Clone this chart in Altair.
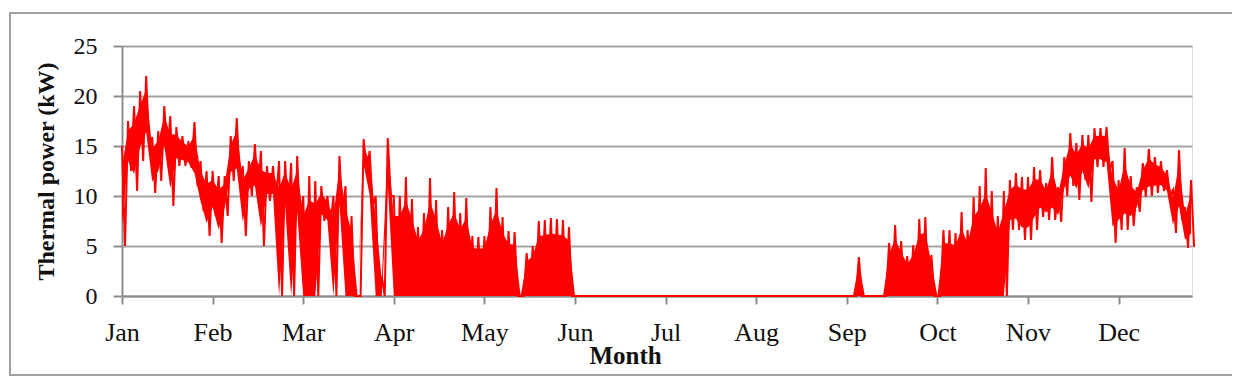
import altair as alt
import pandas as pd

# Month tick labels
months = ["Jan", "Feb", "Mar", "Apr", "May", "Jun", "Jul", "Aug", "Sep", "Oct", "Nov", "Dec"]

# Thermal power (kW), 15 samples per month (every ~2 days):
# upper and lower envelope of the hourly series
jan_hi = [15, 17.5, 19, 20.5, 22, 15.9, 16.5, 19, 18, 16.9, 16, 15.5, 17.4, 13.5, 12.5]
jan_lo = [5, 12.5, 10.5, 13.5, 15, 10.3, 11.5, 14, 9, 13, 13, 12.8, 11, 8.5, 6]
feb_hi = [12.5, 12, 12, 16, 17.8, 13, 13.5, 15.2, 14.5, 13, 13, 13.5, 13.5, 13.3, 14]
feb_lo = [8, 5.3, 8, 11.5, 11.5, 6, 10, 10, 5, 9.5, 9.5, 0, 8, 0, 7]
mar_hi = [10, 12, 11.5, 11, 10, 10, 14, 11, 8, 0, 15.7, 14.5, 10, 2, 15.8]
mar_lo = [0, 0, 0, 7.5, 7, 0, 8, 0, 0, 0, 12.5, 9, 0, 0, 10]
apr_hi = [10, 10, 11.9, 9.7, 6.9, 8.3, 11.8, 9.6, 6.6, 8.9, 10.4, 8.3, 9.8, 6, 5.9]
apr_lo = [0, 0, 0, 0, 0, 0, 0, 0, 0, 0, 0, 0, 0, 0, 0]
may_hi = [6, 8.9, 10.8, 7.9, 6.5, 6.4, 0, 4.3, 5, 7.5, 7.6, 7.8, 7.7, 7.6, 6.9]
may_lo = [0, 0, 0, 0, 0, 0, 0, 0, 0, 0, 0, 0, 0, 0, 0]
jun_hi = [0, 0, 0, 0, 0, 0, 0, 0, 0, 0, 0, 0, 0, 0, 0]
jun_lo = [0, 0, 0, 0, 0, 0, 0, 0, 0, 0, 0, 0, 0, 0, 0]
jul_hi = [0, 0, 0, 0, 0, 0, 0, 0, 0, 0, 0, 0, 0, 0, 0]
jul_lo = [0, 0, 0, 0, 0, 0, 0, 0, 0, 0, 0, 0, 0, 0, 0]
aug_hi = [0, 0, 0, 0, 0, 0, 0, 0, 0, 0, 0, 0, 0, 0, 0]
aug_lo = [0, 0, 0, 0, 0, 0, 0, 0, 0, 0, 0, 0, 0, 0, 0]
sep_hi = [0, 0, 3.9, 0, 0, 0, 0, 5.3, 7.1, 5.5, 4, 5.1, 7.7, 7.9, 4.1]
sep_lo = [0, 0, 0, 0, 0, 0, 0, 0, 0, 0, 0, 0, 0, 0, 0]
oct_hi = [0, 6.6, 6.6, 6.3, 8.4, 6.6, 9.9, 11, 12.8, 10.5, 8, 10.5, 11.6, 12.3, 11.9]
oct_lo = [0, 0, 0, 0, 0, 0, 0, 0, 0, 0, 0, 0, 6.6, 6.6, 5.6]
nov_hi = [11.9, 12.9, 12.6, 11.3, 13.9, 10.9, 13.9, 16.3, 15.3, 16.1, 16.1, 16.8, 16.8, 16.9, 13.5]
nov_lo = [5.6, 6.6, 7.9, 7.6, 7.6, 7.4, 10, 11, 9.6, 11.6, 9.4, 12.9, 12.9, 12.5, 5.3]
dec_hi = [11.6, 14.8, 12, 10.9, 13.3, 14.7, 13.9, 13.5, 12.6, 10.6, 14.6, 8.9, 11.6]
dec_lo = [6.6, 6.6, 7, 8.4, 9.9, 10, 10.3, 10.5, 10, 6.3, 7.6, 4.8, 4.9]

hi_all = (jan_hi + feb_hi + mar_hi + apr_hi + may_hi + jun_hi + jul_hi + aug_hi
          + sep_hi + oct_hi + nov_hi + dec_hi)
lo_all = (jan_lo + feb_lo + mar_lo + apr_lo + may_lo + jun_lo + jul_lo + aug_lo
          + sep_lo + oct_lo + nov_lo + dec_lo)

STEP = 1 / 15  # months between samples

# envelope table (for the dense core of the trace)
env = pd.DataFrame({
    "t": [k * STEP for k in range(len(hi_all))],
    "hi": hi_all,
    "lo": lo_all,
})
# trace table: the series alternates between its high and low in each interval
rows = []
for k, (h, l) in enumerate(zip(hi_all, lo_all)):
    rows.append({"t": k * STEP, "v": h})
    rows.append({"t": k * STEP + STEP / 2, "v": l})
trace = pd.DataFrame(rows)

RED = "#ff0000"
GRAY = "#8c8c8c"
FONT = "Liberation Serif"
label_expr = "[" + ",".join("'%s'" % m for m in months) + "][datum.value]"

x_axis = alt.Axis(
    values=list(range(12)), labelExpr=label_expr, title="Month", grid=False,
    labelFlush=False, labelOverlap=False, labelFontSize=26, labelFont=FONT,
    labelColor="#111111", labelBaseline="alphabetic", labelPadding=36,
    tickSize=8, tickColor=GRAY, tickWidth=2, domainColor=GRAY, domainWidth=2,
    titleFont=FONT, titleFontSize=25, titleFontWeight="bold", titleColor="#111111",
    titleX=503, titleY=67, titleBaseline="alphabetic", titleAlign="center",
)
y_axis = alt.Axis(
    values=[0, 5, 10, 15, 20, 25], title="Thermal power (kW)", grid=True,
    gridColor="#a3a3a3", gridWidth=2, labelFontSize=24, labelFont=FONT,
    labelColor="#111111", labelPadding=16, tickSize=9, tickColor=GRAY, tickWidth=2,
    domainColor=GRAY, domainWidth=2,
    titleFont=FONT, titleFontSize=24, titleFontWeight="bold", titleColor="#111111",
    titleX=-69, titleY=125, titleAngle=270, titleBaseline="alphabetic",
    titleAlign="center",
)
x_scale = alt.Scale(domain=[0, 11.81], nice=False, zero=False)
y_scale = alt.Scale(domain=[0, 25], nice=False)

core = alt.Chart(env).transform_calculate(
    c_top="datum.hi - 0.2 * (datum.hi - datum.lo)",
    c_bot="datum.lo > 0 ? datum.lo + 0.2 * (datum.hi - datum.lo) : 0",
).mark_area(color=RED, opacity=1).encode(
    x=alt.X("t:Q", scale=x_scale, axis=x_axis),
    y=alt.Y("c_top:Q", scale=y_scale, axis=y_axis),
    y2="c_bot:Q",
)
line = alt.Chart(trace).mark_line(color=RED, strokeWidth=2).encode(
    x=alt.X("t:Q", scale=x_scale, axis=x_axis),
    y=alt.Y("v:Q", scale=y_scale, axis=y_axis),
)
frame = alt.Chart(alt.Data(values=[{"f": 1}])).mark_rect(
    fill="white", fillOpacity=0, stroke="#a0a0a0", strokeWidth=2
).encode(
    x=alt.value(-112), x2=alt.value(1111), y=alt.value(-33), y2=alt.value(329)
)

chart = alt.layer(core, line, frame).properties(
    width=1070, height=250,
    padding={"left": 114, "top": 38, "right": 40, "bottom": 90},
    autosize=alt.AutoSizeParams(type="none"),
).configure_view(stroke="#c8c8c8", strokeWidth=1).configure(font=FONT)

chart.save("out.html", embed_options={"renderer": "svg", "actions": False})
